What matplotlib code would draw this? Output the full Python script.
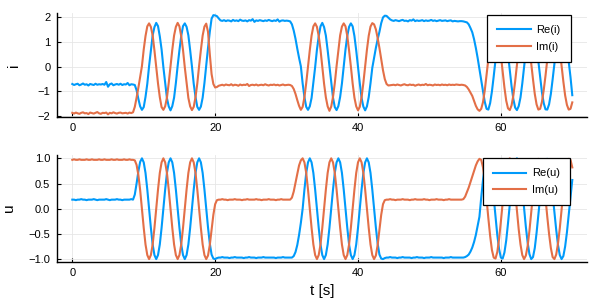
import numpy as np
import matplotlib
matplotlib.use("Agg")
import matplotlib.pyplot as plt

plt.rcParams['font.family'] = ['Liberation Sans', 'DejaVu Sans']

# sample grid (s)
t = np.linspace(0.0, 70.0, 281)

# ---------------- current i ----------------
re_i = [
    # 0 .. 8.5 s
    -0.70, -0.74, -0.71, -0.69, -0.75, -0.72, -0.68, -0.73, -0.71, -0.76,
    -0.70, -0.72, -0.74, -0.69, -0.73, -0.71, -0.72, -0.70, -0.73, -0.62,
    -0.81, -0.71, -0.68, -0.75, -0.72, -0.70, -0.73, -0.69, -0.74, -0.71,
    -0.72, -0.66, -0.75, -0.71, -0.72,
    -0.74, -0.95, -1.30, -1.60,
    # 9.75 .. 18.75 s
    -1.74, -1.63, -1.22, -0.69, 0.02, 0.65, 1.26, 1.59, 1.76, 1.63, 1.22, 0.69, -0.02, -0.65, -1.27, -1.60,
    -1.76, -1.59, -1.25, -0.66, 0.03, 0.66, 1.23, 1.63, 1.74, 1.60, 1.26, 0.66, 0.01, -0.69, -1.22, -1.62,
    -1.74, -1.61, -1.25, -0.66, 0.05,
    0.75, 1.40, 1.93, 2.07, 2.06, 2.03,
    # 20.5 .. 30.25 s
    1.94, 1.86, 1.84, 1.87, 1.83, 1.86, 1.85, 1.82, 1.88, 1.84,
    1.86, 1.83, 1.89, 1.85, 1.84, 1.86, 1.82, 1.87, 1.85, 1.91,
    1.80, 1.86, 1.84, 1.87, 1.85, 1.83, 1.86, 1.84, 1.88, 1.85,
    1.83, 1.86, 1.84, 1.90, 1.81, 1.85, 1.86, 1.84, 1.85, 1.84,
    1.82, 1.70, 1.45, 1.12, 0.72, 0.35,
    # 32.0 .. 42.0 s
    0.01, -0.68, -1.23, -1.62,
    -1.74, -1.60, -1.26, -0.65, -0.02, 0.68, 1.22, 1.62, 1.76, 1.59, 1.25, 0.66, 0.02, -0.66, -1.25, -1.63,
    -1.75, -1.59, -1.22, -0.68, 0.01, 0.69, 1.24, 1.60, 1.74, 1.62, 1.23, 0.65, -0.01, -0.67, -1.26, -1.61,
    -1.76, -1.60, -1.23, -0.67, -0.05,
    0.35, 0.75, 1.10, 1.40, 1.75, 1.98, 2.05, 2.04, 1.97, 1.90, 1.86,
    # 45.0 .. 54.25 s
    1.84, 1.87, 1.85, 1.83, 1.86, 1.88, 1.84, 1.85, 1.82, 1.87,
    1.85, 1.90, 1.83, 1.86, 1.84, 1.85, 1.87, 1.83, 1.86, 1.84,
    1.85, 1.88, 1.84, 1.86, 1.83, 1.85, 1.87, 1.84, 1.85, 1.86,
    1.83, 1.85, 1.86, 1.82, 1.84, 1.83, 1.82, 1.83,
    # 54.5 .. 70 s
    1.83, 1.82, 1.80, 1.78, 1.70, 1.55, 1.38, 1.10, 0.75, 0.35, -0.10, -0.55, -0.99, -1.42, -1.70, -1.73,
    -1.47, -1.00, -0.39, 0.28, 0.91, 1.40, 1.70, 1.73, 1.52, 1.10, 0.51, -0.16, -0.79, -1.31, -1.65, -1.75,
    -1.59, -1.24, -0.68, -0.04, 0.63, 1.17, 1.58, 1.75, 1.68, 1.37, 0.84, 0.21, -0.42, -1.03, -1.47, -1.72,
    -1.73, -1.52, -1.10, -0.51, 0.12, 0.74, 1.26, 1.61, 1.75, 1.65, 1.31, 0.82, 0.21, -0.42, -1.15,
]

im_i = [
    -1.86, -1.89, -1.85, -1.88, -1.90, -1.86, -1.84, -1.88, -1.87, -1.91,
    -1.85, -1.87, -1.89, -1.86, -1.83, -1.88, -1.90, -1.86, -1.87, -1.85,
    -1.92, -1.86, -1.88, -1.84, -1.87, -1.89, -1.86, -1.85, -1.88, -1.87,
    -1.86, -1.89, -1.85, -1.87, -1.84,
    -1.62, -1.25, -0.85, -0.42,
    0.02, 0.69, 1.23, 1.62, 1.74, 1.60, 1.26, 0.65, -0.02, -0.68, -1.23, -1.63, -1.74, -1.60, -1.25, -0.66,
    0.01, 0.68, 1.25, 1.60, 1.76, 1.62, 1.22, 0.67, -0.03, -0.66, -1.26, -1.60, -1.75, -1.62, -1.23, -0.68,
    0.02, 0.66, 1.25, 1.61, 1.73,
    1.40, 0.50, -0.30, -0.70, -0.84, -0.82,
    -0.77, -0.75, -0.73, -0.76, -0.72, -0.74, -0.75, -0.71, -0.76, -0.73,
    -0.74, -0.77, -0.72, -0.75, -0.73, -0.74, -0.70, -0.78, -0.74, -0.73,
    -0.75, -0.72, -0.76, -0.74, -0.73, -0.75, -0.71, -0.74, -0.76, -0.73,
    -0.74, -0.72, -0.75, -0.73, -0.76, -0.74, -0.72, -0.75, -0.74, -0.73,
    -0.74, -0.78, -0.90, -1.10, -1.35, -1.58,
    -1.74, -1.62, -1.23, -0.66,
    0.02, 0.66, 1.25, 1.62, 1.74, 1.60, 1.23, 0.68, -0.01, -0.69, -1.24, -1.60, -1.78, -1.61, -1.22, -0.67,
    0.02, 0.66, 1.26, 1.61, 1.74, 1.62, 1.23, 0.65, 0.01, -0.68, -1.25, -1.60, -1.76, -1.62, -1.23, -0.66,
    0.01, 0.68, 1.24, 1.61, 1.75,
    1.70, 1.50, 1.15, 0.75, 0.30, -0.15, -0.50, -0.70, -0.76, -0.75, -0.74,
    -0.73, -0.75, -0.72, -0.74, -0.76, -0.73, -0.71, -0.74, -0.75, -0.72,
    -0.74, -0.73, -0.77, -0.74, -0.72, -0.75, -0.73, -0.74, -0.70, -0.75,
    -0.73, -0.74, -0.76, -0.72, -0.74, -0.73, -0.75, -0.72, -0.74, -0.73,
    -0.75, -0.72, -0.74, -0.73, -0.74, -0.72, -0.73, -0.74,
    -0.73, -0.74, -0.76, -0.82, -0.92, -1.05, -1.18, -1.38, -1.58, -1.72, -1.78, -1.70, -1.43, -0.95, -0.33, 0.33,
    0.95, 1.44, 1.70, 1.73, 1.51, 1.05, 0.46, -0.21, -0.84, -1.37, -1.68, -1.75, -1.56, -1.16, -0.60, 0.05,
    0.72, 1.24, 1.61, 1.75, 1.63, 1.30, 0.77, 0.12, -0.51, -1.10, -1.52, -1.73, -1.70, -1.42, -0.95, -0.37,
    0.28, 0.88, 1.37, 1.68, 1.75, 1.59, 1.21, 0.68, 0.05, -0.60, -1.16, -1.54, -1.73, -1.70, -1.44,
]

# ---------------- voltage u ----------------
re_u = [
    0.18, 0.18, 0.17, 0.18, 0.18, 0.19, 0.18, 0.18, 0.17, 0.18,
    0.18, 0.18, 0.19, 0.18, 0.17, 0.18, 0.18, 0.18, 0.18, 0.19,
    0.18, 0.17, 0.18, 0.18, 0.18, 0.19, 0.18, 0.18, 0.17, 0.18,
    0.18, 0.18, 0.18, 0.19, 0.18,
    0.28, 0.50, 0.74, 0.93,
    1.00, 0.92, 0.71, 0.38, 0.00, -0.38, -0.71, -0.92, -1.00, -0.92, -0.71, -0.38, 0.00, 0.38, 0.71, 0.92,
    1.00, 0.92, 0.71, 0.38, 0.00, -0.38, -0.71, -0.92, -1.00, -0.92, -0.71, -0.38, 0.00, 0.38, 0.71, 0.92,
    1.00, 0.92, 0.71, 0.38, 0.00,
    -0.37, -0.69, -0.91, -0.99, -1.00, -0.98,
    -0.97, -0.97, -0.96, -0.97, -0.97, -0.97, -0.98, -0.97, -0.97, -0.96,
    -0.97, -0.97, -0.97, -0.97, -0.98, -0.97, -0.97, -0.96, -0.97, -0.97,
    -0.97, -0.98, -0.97, -0.97, -0.97, -0.96, -0.97, -0.97, -0.97, -0.97,
    -0.97, -0.97, -0.98, -0.97, -0.97, -0.97, -0.96, -0.97, -0.97, -0.97,
    -0.97, -0.97, -0.94, -0.86, -0.72, -0.52, -0.28,
    0.00, 0.38, 0.71, 0.92,
    1.00, 0.92, 0.71, 0.38, 0.00, -0.38, -0.71, -0.92, -1.00, -0.92, -0.71, -0.38, 0.00, 0.38, 0.71, 0.92,
    1.00, 0.92, 0.71, 0.38, 0.00, -0.38, -0.71, -0.92, -1.00, -0.92, -0.71, -0.38, 0.00, 0.38, 0.71, 0.92,
    1.00, 0.92, 0.71, 0.38, 0.00,
    -0.37, -0.69, -0.91, -0.99, -1.00, -0.98,
    -0.97, -0.97, -0.96, -0.97, -0.97, -0.97, -0.98, -0.97, -0.97, -0.96,
    -0.97, -0.97, -0.97, -0.97, -0.98, -0.97, -0.97, -0.96, -0.97, -0.97,
    -0.97, -0.98, -0.97, -0.97, -0.97, -0.96, -0.97, -0.97, -0.97, -0.97,
    -0.97, -0.97, -0.98, -0.97, -0.97, -0.97, -0.96, -0.97, -0.97, -0.97,
    -0.97, -0.97,
    -0.97, -0.97, -0.96, -0.94, -0.91, -0.85, -0.77, -0.66, -0.52, -0.34, -0.16, 0.22, 0.57, 0.84, 0.98, 0.98,
    0.84, 0.57, 0.22, -0.16, -0.52, -0.80, -0.97, -0.99, -0.87, -0.63, -0.29, 0.09, 0.45, 0.75, 0.94, 1.00,
    0.91, 0.71, 0.39, 0.02, -0.36, -0.67, -0.90, -1.00, -0.96, -0.78, -0.48, -0.12, 0.24, 0.59, 0.84, 0.98,
    0.99, 0.87, 0.63, 0.29, -0.07, -0.42, -0.72, -0.92, -1.00, -0.94, -0.75, -0.47, -0.12, 0.24, 0.57,
]

im_u = [
    0.97, 0.98, 0.97, 0.97, 0.98, 0.97, 0.97, 0.97, 0.98, 0.97,
    0.97, 0.98, 0.97, 0.97, 0.97, 0.98, 0.97, 0.97, 0.98, 0.97,
    0.97, 0.97, 0.98, 0.97, 0.97, 0.98, 0.97, 0.97, 0.97, 0.98,
    0.97, 0.97, 0.98, 0.97, 0.97,
    0.96, 0.87, 0.67, 0.37,
    0.00, -0.38, -0.71, -0.92, -1.00, -0.92, -0.71, -0.38, 0.00, 0.38, 0.71, 0.92, 1.00, 0.92, 0.71, 0.38,
    0.00, -0.38, -0.71, -0.92, -1.00, -0.92, -0.71, -0.38, 0.00, 0.38, 0.71, 0.92, 1.00, 0.92, 0.71, 0.38,
    0.00, -0.38, -0.71, -0.92, -1.00,
    -0.93, -0.72, -0.42, -0.12, 0.09, 0.17,
    0.18, 0.18, 0.19, 0.18, 0.18, 0.17, 0.18, 0.18, 0.18, 0.19,
    0.18, 0.18, 0.18, 0.17, 0.18, 0.18, 0.19, 0.18, 0.18, 0.18,
    0.18, 0.19, 0.18, 0.18, 0.17, 0.18, 0.18, 0.18, 0.19, 0.18,
    0.18, 0.18, 0.17, 0.18, 0.18, 0.19, 0.18, 0.18, 0.18, 0.18,
    0.18, 0.22, 0.34, 0.52, 0.69, 0.86, 0.96,
    1.00, 0.92, 0.71, 0.38,
    0.00, -0.38, -0.71, -0.92, -1.00, -0.92, -0.71, -0.38, 0.00, 0.38, 0.71, 0.92, 1.00, 0.92, 0.71, 0.38,
    0.00, -0.38, -0.71, -0.92, -1.00, -0.92, -0.71, -0.38, 0.00, 0.38, 0.71, 0.92, 1.00, 0.92, 0.71, 0.38,
    0.00, -0.38, -0.71, -0.92, -1.00,
    -0.93, -0.72, -0.42, -0.12, 0.09, 0.17,
    0.18, 0.18, 0.19, 0.18, 0.18, 0.17, 0.18, 0.18, 0.18, 0.19,
    0.18, 0.18, 0.18, 0.17, 0.18, 0.18, 0.19, 0.18, 0.18, 0.18,
    0.18, 0.19, 0.18, 0.18, 0.17, 0.18, 0.18, 0.18, 0.19, 0.18,
    0.18, 0.18, 0.17, 0.18, 0.18, 0.19, 0.18, 0.18, 0.18, 0.18,
    0.18, 0.18,
    0.18, 0.19, 0.24, 0.33, 0.42, 0.53, 0.64, 0.75, 0.86, 0.94, 0.99, 0.97, 0.82, 0.54, 0.19, -0.19,
    -0.54, -0.82, -0.97, -0.99, -0.86, -0.60, -0.26, 0.12, 0.48, 0.78, 0.96, 1.00, 0.89, 0.66, 0.34, -0.03,
    -0.41, -0.71, -0.92, -1.00, -0.93, -0.74, -0.44, -0.07, 0.29, 0.63, 0.87, 0.99, 0.97, 0.81, 0.54, 0.21,
    -0.16, -0.50, -0.78, -0.96, -1.00, -0.91, -0.69, -0.39, -0.03, 0.34, 0.66, 0.88, 0.99, 0.97, 0.82,
]

labels_i = ["Re(i)", "Im(i)"]
labels_u = ["Re(u)", "Im(u)"]
xticks = [0, 20, 40, 60]
yticks_i = [-2, -1, 0, 1, 2]
yticks_u = [-1.0, -0.5, 0.0, 0.5, 1.0]

BLUE = "#009AFA"
ORANGE = "#E36F47"

fig = plt.figure(figsize=(6, 3), dpi=100)
ax1 = fig.add_axes([0.0955, 0.609, 0.8833, 0.3487])
ax2 = fig.add_axes([0.0955, 0.1263, 0.8833, 0.356])


def style(ax, yt, ylim, yfmt):
    ax.set_xlim(-2.1, 72.1)
    ax.set_ylim(*ylim)
    ax.set_xticks(xticks)
    ax.set_yticks(yt)
    ax.set_yticklabels([yfmt(v) for v in yt])
    for s in ("top", "right"):
        ax.spines[s].set_visible(False)
    for s in ("left", "bottom"):
        ax.spines[s].set_linewidth(1.0)
        ax.spines[s].set_color("black")
    ax.tick_params(direction="in", length=3, width=0.8, labelsize=8,
                   colors="black", pad=4)
    ax.tick_params(axis="y", pad=5)
    ax.grid(True, color="#e6e6e6", linewidth=0.6)
    ax.set_axisbelow(True)


style(ax1, yticks_i, (-2.04, 2.17), lambda v: f"{v:d}".replace("-", "\u2212"))
style(ax2, yticks_u, (-1.06, 1.06), lambda v: f"{v:.1f}".replace("-", "\u2212"))

ax1.plot(t, re_i, color=BLUE, lw=1.5, label=labels_i[0])
ax1.plot(t, im_i, color=ORANGE, lw=1.5, label=labels_i[1])
ax2.plot(t, re_u, color=BLUE, lw=1.5, label=labels_u[0])
ax2.plot(t, im_u, color=ORANGE, lw=1.5, label=labels_u[1])

for ax, anchor in ((ax1, (0.951, 0.95)), (ax2, (0.95, 0.472))):
    leg = ax.legend(loc="upper right", bbox_to_anchor=anchor,
                    bbox_transform=fig.transFigure, fontsize=8,
                    fancybox=False, framealpha=1.0, edgecolor="black",
                    handlelength=3.0, handletextpad=0.5, labelspacing=0.6,
                    borderpad=0.9, borderaxespad=0.0)
    leg.get_frame().set_linewidth(0.9)

fig.text(14 / 600, 1 - 65 / 300, "i", rotation=90, ha="center", va="center", fontsize=11)
fig.text(9 / 600, 1 - 208 / 300, "u", rotation=90, ha="center", va="center", fontsize=11)
fig.text(322 / 600, 1 - 291 / 300, "t [s]", ha="center", va="center", fontsize=11)

fig.savefig("out.png", dpi=100)
